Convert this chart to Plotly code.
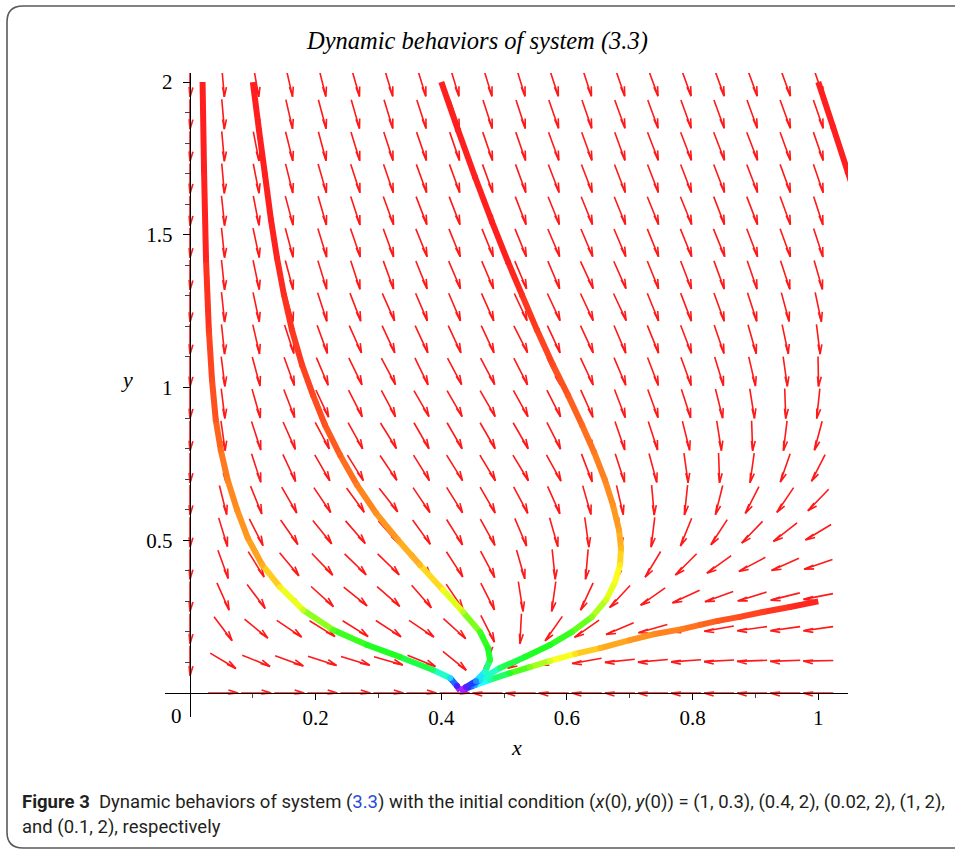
import math
import colorsys
import plotly.graph_objects as go

# ---------------- data ----------------
grid_x = [0.0, 0.0526, 0.1053, 0.1579, 0.2105, 0.2632, 0.3158, 0.3684, 0.4211, 0.4737,
          0.5263, 0.5789, 0.6316, 0.6842, 0.7368, 0.7895, 0.8421, 0.8947, 0.9474, 1.0]
grid_y = [2.0, 1.8947, 1.7895, 1.6842, 1.5789, 1.4737, 1.3684, 1.2632, 1.1579, 1.0526,
          0.9474, 0.8421, 0.7368, 0.6316, 0.5263, 0.4211, 0.3158, 0.2105, 0.1053, 0.0]

# direction of each field arrow (degrees, screen orientation), rows top -> bottom
field_angle = [
    [-90, -85, -80, -77, -76, -74, -73, -73, -73, -73, -73, -72, -72, -71, -70, -70, -70, -70, -70, -71],
    [-90, -85, -80, -77, -75, -74, -73, -72, -72, -72, -72, -71, -71, -70, -70, -70, -70, -70, -70, -71],
    [-90, -85, -79, -76, -75, -73, -72, -71, -71, -71, -71, -70, -70, -70, -69, -69, -69, -69, -70, -71],
    [-90, -85, -79, -76, -74, -72, -71, -70, -70, -70, -70, -69, -69, -69, -69, -69, -69, -69, -70, -71],
    [-90, -84, -79, -75, -74, -72, -70, -69, -69, -69, -69, -68, -68, -68, -68, -68, -69, -69, -70, -72],
    [-90, -84, -78, -75, -73, -71, -70, -68, -68, -68, -68, -67, -67, -67, -68, -68, -68, -69, -70, -72],
    [-90, -84, -78, -75, -73, -72, -70, -68, -67, -67, -67, -67, -65, -66, -68, -69, -70, -71, -72, -74],
    [-90, -84, -78, -75, -72, -69, -66, -67, -67, -66, -65, -65, -65, -65, -68, -69, -70, -72, -75, -78],
    [-90, -84, -77, -72, -70, -66, -65, -65, -65, -65, -63, -65, -65, -67, -68, -69, -71, -74, -78, -83],
    [-90, -83, -75, -70, -67, -64, -62, -64, -62, -62, -63, -64, -65, -67, -69, -70, -73, -77, -82, -89],
    [-90, -83, -74, -69, -65, -63, -62, -60, -60, -60, -61, -63, -66, -69, -70, -72, -76, -81, -88, -96],
    [-90, -82, -72, -66, -62, -61, -58, -60, -60, -60, -60, -63, -66, -71, -72, -76, -81, -88, -97, -105],
    [-90, -78, -72, -65, -60, -58, -56, -58, -58, -59, -59, -61, -69, -72, -75, -82, -88, -98, -109, -117],
    [-90, -76, -68, -60, -56, -54, -52, -56, -58, -60, -62, -66, -74, -77, -85, -96, -104, -117, -124, -134],
    [-90, -73, -63, -55, -51, -49, -48, -54, -58, -61, -67, -74, -82, -85, -97, -112, -123, -134, -142, -149],
    [-90, -70, -58, -50, -46, -44, -44, -51, -57, -62, -74, -84, -95, -102, -121, -135, -144, -152, -156, -161],
    [-90, -66, -53, -45, -42, -39, -41, -49, -56, -63, -81, -98, -115, -133, -145, -155, -160, -163, -166, -169],
    [-90, -53, -39, -34, -32, -32, -33, -34, -42, -63, -93, -125, -145, -157, -164, -167, -170, -172, -172, -172],
    [-90, -31, -22, -20, -18, -17, -16, -22, -39, -110, -150, -163, -170, -174, -175, -176, -177, -178, -178, -179],
    [None, 0, 0, 0, 0, 0, 0, 0, 0, 180, 180, 180, 180, 180, 180, 180, 180, 180, 180, 180],
]

# trajectories: x, y and hue (degrees)
trajA_x = [1.0, 0.955, 0.912, 0.875, 0.840, 0.812, 0.783, 0.740, 0.700, 0.653, 0.613, 0.573, 0.541, 0.509, 0.477, 0.454, 0.438, 0.430]
trajA_y = [0.3, 0.2815, 0.265, 0.249, 0.236, 0.223, 0.209, 0.193, 0.173, 0.147, 0.128, 0.105, 0.085, 0.065, 0.043, 0.026, 0.013, 0.007]
trajA_h = [0, 4, 8, 12, 16, 20, 25, 29, 33, 40, 52, 72, 95, 118, 160, 200, 245, 295]

trajB_x = [0.4, 0.4266, 0.4536, 0.4807, 0.5061, 0.5284, 0.5523, 0.5777, 0.6016, 0.6239, 0.6430, 0.6605, 0.6732,
           0.6828, 0.6860, 0.6844, 0.6764, 0.6621, 0.6398, 0.6080, 0.5730, 0.5332, 0.4934, 0.4616, 0.4425, 0.430]
trajB_y = [2.0, 1.843, 1.689, 1.542, 1.411, 1.303, 1.188, 1.074, 0.975, 0.877, 0.789, 0.697, 0.615,
           0.534, 0.475, 0.419, 0.363, 0.304, 0.249, 0.200, 0.157, 0.118, 0.082, 0.0426, 0.0196, 0.007]
trajB_h = [0, 0, 0, 0, 0, 5, 8, 12, 15, 20, 24, 28, 31, 35, 42, 55, 62, 72, 90, 110, 120, 122, 140, 190, 245, 300]

trajC_x = [0.02, 0.0223, 0.0255, 0.030, 0.035, 0.041, 0.049, 0.060, 0.075, 0.092, 0.115, 0.143, 0.180, 0.228, 0.282, 0.334, 0.387, 0.414, 0.425, 0.430]
trajC_y = [2.0, 1.712, 1.417, 1.188, 1.025, 0.894, 0.795, 0.697, 0.599, 0.507, 0.419, 0.347, 0.272, 0.206, 0.157, 0.118, 0.075, 0.049, 0.023, 0.007]
trajC_h = [0, 0, 2, 8, 12, 15, 22, 27, 30, 33, 38, 55, 75, 105, 120, 122, 140, 190, 250, 300]

trajD_x = [1.0, 1.0235, 1.047, 1.066]
trajD_y = [2.0, 1.853, 1.705, 1.588]
trajD_h = [0, 0, 0, 0]

trajE_x = [0.1, 0.1098, 0.1194, 0.1289, 0.1385, 0.1496, 0.1623, 0.1783, 0.1958, 0.2149, 0.2387, 0.2658,
           0.2960, 0.3310, 0.3661, 0.4027, 0.4345, 0.4616, 0.4743, 0.4775, 0.4695, 0.4552, 0.4393, 0.430]
trajE_y = [2.0, 1.843, 1.696, 1.548, 1.424, 1.303, 1.188, 1.074, 0.975, 0.877, 0.779, 0.681,
           0.589, 0.501, 0.419, 0.337, 0.265, 0.200, 0.147, 0.108, 0.069, 0.039, 0.0196, 0.007]
trajE_h = [0, 0, 0, 0, 2, 4, 6, 8, 11, 14, 18, 25, 30, 35, 42, 58, 78, 110, 120, 125, 165, 210, 255, 300]

x_tick_vals = [0.2, 0.4, 0.6, 0.8, 1.0]
x_tick_text = ["0.2", "0.4", "0.6", "0.8", "1"]
x_minor_vals = [0.1, 0.3, 0.5, 0.7, 0.9]
y_tick_vals = [0.5, 1.0, 1.5, 2.0]
y_tick_text = ["0.5", "1", "1.5", "2"]
y_minor_vals = [0.1, 0.2, 0.3, 0.4, 0.6, 0.7, 0.8, 0.9, 1.1, 1.2, 1.3, 1.4, 1.6, 1.7, 1.8, 1.9]

# ---------------- layout geometry ----------------
FIG_W, FIG_H = 955, 850
PLOT_L, PLOT_T, PLOT_W, PLOT_H = 165, 73, 683, 644
X_RANGE = [-0.0398, 1.0473]
Y_RANGE = [-0.0786, 2.0295]
SX = PLOT_W / (X_RANGE[1] - X_RANGE[0])   # pixels per x unit
SY = PLOT_H / (Y_RANGE[1] - Y_RANGE[0])   # pixels per y unit

ARROW_HALF = 15.0   # px
HEAD_LEN = 10.0     # px
HEAD_CW = math.radians(17)    # visible barb (clockwise from the back direction)
HEAD_CCW = math.radians(5)    # barb lying almost along the shaft
ARROW_COLOR = "rgb(255,25,25)"
SERIF = "Liberation Serif, Times New Roman, serif"


def px_to_paper_x(px):
    return (px - PLOT_L) / PLOT_W


def px_to_paper_y(py):
    return (PLOT_T + PLOT_H - py) / PLOT_H


def hue_color(h):
    r, g, b = colorsys.hsv_to_rgb((h % 360) / 360.0, 0.88, 1.0)
    return "rgb(%d,%d,%d)" % (round(r * 255), round(g * 255), round(b * 255))


fig = go.Figure()

# ---------------- direction field ----------------
ax, ay = [], []
for r, yv in enumerate(grid_y):
    for c, xv in enumerate(grid_x):
        a = field_angle[r][c]
        if a is None:
            continue
        t = math.radians(a)
        ux, uy = math.cos(t) / SX, math.sin(t) / SY
        tx, ty = xv - ARROW_HALF * ux, yv - ARROW_HALF * uy
        hx, hy = xv + ARROW_HALF * ux, yv + ARROW_HALF * uy
        b1 = t + math.pi - HEAD_CW
        b2 = t + math.pi + HEAD_CCW
        b1x, b1y = hx + HEAD_LEN * math.cos(b1) / SX, hy + HEAD_LEN * math.sin(b1) / SY
        b2x, b2y = hx + HEAD_LEN * math.cos(b2) / SX, hy + HEAD_LEN * math.sin(b2) / SY
        ax += [tx, hx, b1x, None, hx, b2x, None]
        ay += [ty, hy, b1y, None, hy, b2y, None]

fig.add_trace(go.Scatter(x=ax, y=ay, mode="lines",
                         line=dict(color=ARROW_COLOR, width=1.6),
                         hoverinfo="skip", showlegend=False))

# ---------------- trajectories ----------------
trajs = [(trajA_x, trajA_y, trajA_h), (trajB_x, trajB_y, trajB_h),
         (trajC_x, trajC_y, trajC_h), (trajD_x, trajD_y, trajD_h),
         (trajE_x, trajE_y, trajE_h)]
LW = 6
for xs, ys, hs in trajs:
    for i in range(len(xs) - 1):
        col = hue_color(0.5 * (hs[i] + hs[i + 1]))
        fig.add_trace(go.Scatter(x=[xs[i], xs[i + 1]], y=[ys[i], ys[i + 1]], mode="lines",
                                 line=dict(color=col, width=LW),
                                 hoverinfo="skip", showlegend=False))
    fig.add_trace(go.Scatter(x=xs[1:-1], y=ys[1:-1], mode="markers",
                             marker=dict(size=LW, color=[hue_color(h) for h in hs[1:-1]], line=dict(width=0)),
                             hoverinfo="skip", showlegend=False, cliponaxis=True))

# ---------------- axes ----------------
x0_frac = (0 - Y_RANGE[0]) / (Y_RANGE[1] - Y_RANGE[0])
y0_frac = (0 - X_RANGE[0]) / (X_RANGE[1] - X_RANGE[0])

fig.update_xaxes(range=X_RANGE, domain=[0, 1], anchor="free", position=x0_frac,
                 showgrid=False, zeroline=False, showline=True, linecolor="black", linewidth=1.4,
                 tickmode="array", tickvals=x_tick_vals, ticktext=x_tick_text,
                 ticks="outside", ticklen=6, tickwidth=1, tickcolor="black",
                 tickfont=dict(family=SERIF, size=21, color="black"),
                 minor=dict(tickvals=x_minor_vals, ticks="outside", ticklen=4, tickwidth=1, tickcolor="#444"),
                 fixedrange=True)
fig.update_yaxes(range=Y_RANGE, domain=[0, 1], anchor="free", position=y0_frac,
                 showgrid=False, zeroline=False, showline=True, linecolor="black", linewidth=1.4,
                 tickmode="array", tickvals=y_tick_vals, ticktext=y_tick_text,
                 ticks="outside", ticklen=7, tickwidth=1, tickcolor="black",
                 tickfont=dict(family=SERIF, size=21, color="black"),
                 ticklabelstandoff=6,
                 minor=dict(tickvals=y_minor_vals, ticks="outside", ticklen=4.5, tickwidth=1, tickcolor="#444"),
                 fixedrange=True)

CAP_FONT = dict(family="Roboto, sans-serif", size=18.5, color="#231f20")
annotations = [
    dict(text="<i>Dynamic behaviors of system (3.3)</i>", xref="paper", yref="paper",
         x=px_to_paper_x(477), y=px_to_paper_y(41), xanchor="center", yanchor="middle",
         showarrow=False, font=dict(family=SERIF, size=24.5, color="black")),
    dict(text="0", xref="x", yref="y", x=0, y=0, xanchor="right", yanchor="top",
         xshift=-6, yshift=-9, showarrow=False, font=dict(family=SERIF, size=21, color="black")),
    dict(text="<i>x</i>", xref="x", yref="paper", x=0.52, y=px_to_paper_y(748),
         xanchor="center", yanchor="middle", showarrow=False,
         font=dict(family=SERIF, size=22, color="black")),
    dict(text="<i>y</i>", xref="paper", yref="y", x=px_to_paper_x(127), y=1.025,
         xanchor="center", yanchor="middle", showarrow=False,
         font=dict(family=SERIF, size=22, color="black")),
    dict(text="<b>Figure 3</b>  Dynamic behaviors of system (<span style='color:#2b4bd6'>3.3</span>) "
              "with the initial condition (<i>x</i>(0), <i>y</i>(0)) = (1, 0.3), (0.4, 2), (0.02, 2), (1, 2),",
         xref="paper", yref="paper", x=px_to_paper_x(20), y=px_to_paper_y(802),
         xanchor="left", yanchor="middle", showarrow=False, font=CAP_FONT),
    dict(text="and (0.1, 2), respectively",
         xref="paper", yref="paper", x=px_to_paper_x(20), y=px_to_paper_y(827),
         xanchor="left", yanchor="middle", showarrow=False, font=CAP_FONT),
]

# rounded frame
r_px = 16
L_, T_, R_, B_ = 7, 6, 965, 848
X = px_to_paper_x
Y = px_to_paper_y
frame_path = (f"M {X(R_)},{Y(T_)} L {X(L_ + r_px)},{Y(T_)} Q {X(L_)},{Y(T_)} {X(L_)},{Y(T_ + r_px)} "
              f"L {X(L_)},{Y(B_ - r_px)} Q {X(L_)},{Y(B_)} {X(L_ + r_px)},{Y(B_)} L {X(R_)},{Y(B_)}")

fig.update_layout(
    width=FIG_W, height=FIG_H, autosize=False,
    margin=dict(l=PLOT_L, r=FIG_W - PLOT_L - PLOT_W, t=PLOT_T, b=FIG_H - PLOT_T - PLOT_H, pad=0),
    paper_bgcolor="white", plot_bgcolor="white",
    showlegend=False, annotations=annotations,
    shapes=[dict(type="path", path=frame_path, xref="paper", yref="paper",
                 line=dict(color="#5a5a5a", width=1.6), layer="below")],
)

fig.write_html("out.html")
